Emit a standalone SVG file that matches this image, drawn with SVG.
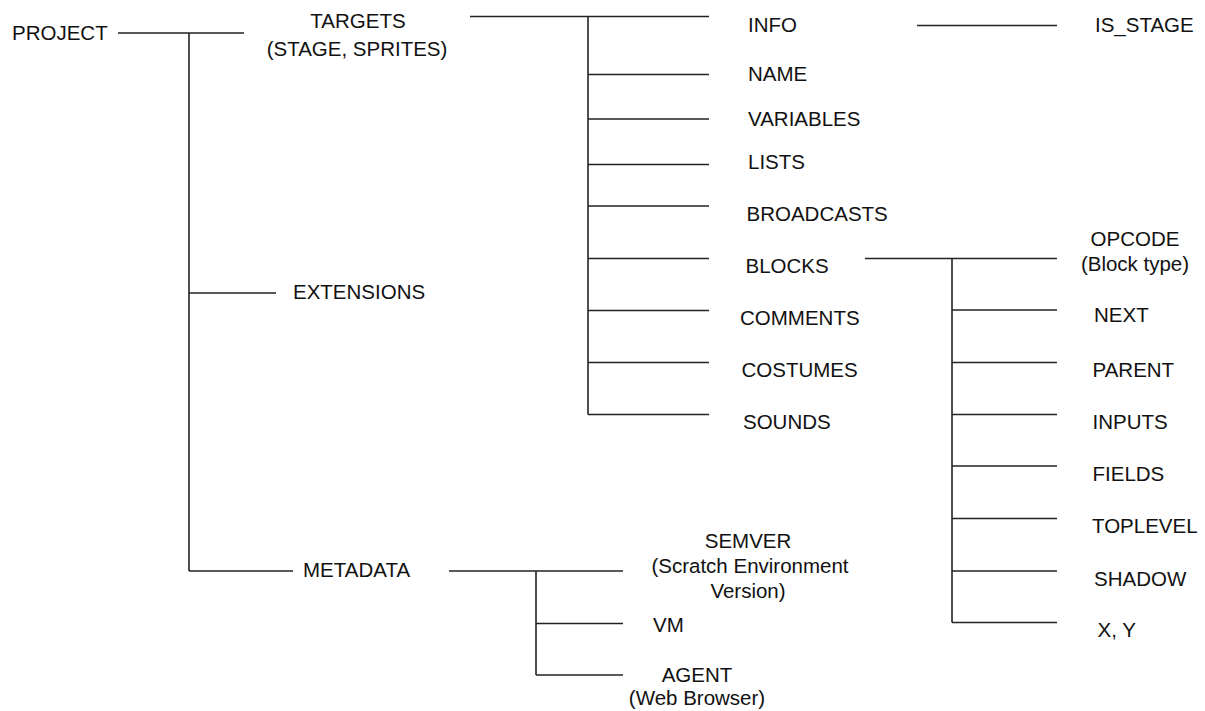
<svg xmlns="http://www.w3.org/2000/svg" width="1205" height="711" viewBox="0 0 1205 711">
<style>
  text { font-family: "Liberation Sans", Arial, sans-serif; font-size: 20.5px; fill: #111; }
  .c { text-anchor: middle; }
  #connectors line { stroke: #222; stroke-width: 1.6; fill: none; }
</style>
<rect width="1205" height="711" fill="#fff"/>
<g id="connectors">
  <line x1="118" y1="33" x2="244" y2="33"/>
  <line x1="189" y1="33" x2="189" y2="571"/>
  <line x1="189" y1="293" x2="276" y2="293"/>
  <line x1="189" y1="571" x2="293" y2="571"/>
  <line x1="470" y1="16.5" x2="709" y2="16.5"/>
  <line x1="588" y1="16.5" x2="588" y2="414.5"/>
  <line x1="588" y1="74.5" x2="709" y2="74.5"/>
  <line x1="588" y1="119" x2="709" y2="119"/>
  <line x1="588" y1="164.5" x2="709" y2="164.5"/>
  <line x1="588" y1="206" x2="709" y2="206"/>
  <line x1="588" y1="258.5" x2="709" y2="258.5"/>
  <line x1="588" y1="310.5" x2="709" y2="310.5"/>
  <line x1="588" y1="362.5" x2="709" y2="362.5"/>
  <line x1="588" y1="414.5" x2="709" y2="414.5"/>
  <line x1="917" y1="25.5" x2="1057" y2="25.5"/>
  <line x1="865" y1="258.5" x2="1057" y2="258.5"/>
  <line x1="952" y1="258.5" x2="952" y2="622.5"/>
  <line x1="952" y1="310" x2="1057" y2="310"/>
  <line x1="952" y1="362.5" x2="1057" y2="362.5"/>
  <line x1="952" y1="414.5" x2="1057" y2="414.5"/>
  <line x1="952" y1="466" x2="1057" y2="466"/>
  <line x1="952" y1="518.5" x2="1057" y2="518.5"/>
  <line x1="952" y1="571" x2="1057" y2="571"/>
  <line x1="952" y1="622.5" x2="1057" y2="622.5"/>
  <line x1="449" y1="571" x2="623" y2="571"/>
  <line x1="536" y1="571" x2="536" y2="675"/>
  <line x1="536" y1="623.5" x2="623" y2="623.5"/>
  <line x1="536" y1="675" x2="623" y2="675"/>
</g>
<g id="project"><text x="12" y="40">PROJECT</text></g>
<g id="targets"><text class="c" x="358" y="28">TARGETS</text><text class="c" x="357" y="56">(STAGE, SPRITES)</text></g>
<g id="extensions"><text x="293" y="299">EXTENSIONS</text></g>
<g id="metadata"><text x="303" y="577">METADATA</text></g>
<g id="info"><text x="748" y="31.5">INFO</text></g>
<g id="name"><text x="748" y="81">NAME</text></g>
<g id="variables"><text x="748" y="126">VARIABLES</text></g>
<g id="lists"><text x="748" y="168.5">LISTS</text></g>
<g id="broadcasts"><text x="746.5" y="220.5">BROADCASTS</text></g>
<g id="blocks"><text x="745.5" y="273">BLOCKS</text></g>
<g id="comments"><text x="740" y="325">COMMENTS</text></g>
<g id="costumes"><text x="741.5" y="376.5">COSTUMES</text></g>
<g id="sounds"><text x="743" y="429">SOUNDS</text></g>
<g id="is_stage"><text x="1095" y="32">IS_STAGE</text></g>
<g id="opcode"><text class="c" x="1135" y="245.5">OPCODE</text><text class="c" x="1135" y="271">(Block type)</text></g>
<g id="next"><text x="1094" y="321.5">NEXT</text></g>
<g id="parent"><text x="1092.5" y="376.5">PARENT</text></g>
<g id="inputs"><text x="1092.5" y="428.5">INPUTS</text></g>
<g id="fields"><text x="1092.5" y="480.5">FIELDS</text></g>
<g id="toplevel"><text x="1092" y="533">TOPLEVEL</text></g>
<g id="shadow"><text x="1094" y="585.5">SHADOW</text></g>
<g id="xy"><text x="1097.5" y="637">X, Y</text></g>
<g id="semver"><text class="c" x="748" y="548">SEMVER</text><text class="c" x="750" y="573">(Scratch Environment</text><text class="c" x="748" y="598">Version)</text></g>
<g id="vm"><text x="653" y="631.5">VM</text></g>
<g id="agent"><text class="c" x="697" y="681.5">AGENT</text><text class="c" x="697" y="705">(Web Browser)</text></g>
</svg>
